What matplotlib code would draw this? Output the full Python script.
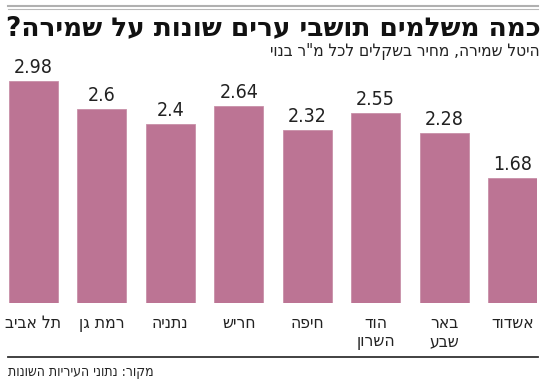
import matplotlib
matplotlib.use("Agg")
import matplotlib.pyplot as plt
from matplotlib.lines import Line2D

plt.rcParams['font.family'] = ['DejaVu Sans']
plt.rcParams['font.stretch'] = 'condensed'

# data, left to right as in the picture
cities = ["תל אביב", "רמת גן", "נתניה", "חריש", "חיפה", "הוד\nהשרון", "באר\nשבע", "אשדוד"]
prices = [2.98, 2.6, 2.4, 2.64, 2.32, 2.55, 2.28, 1.68]
value_labels = ["2.98", "2.6", "2.4", "2.64", "2.32", "2.55", "2.28", "1.68"]

title = "כמה משלמים תושבי ערים שונות על שמירה?"
subtitle = 'היטל שמירה, מחיר בשקלים לכל מ"ר בנוי'
source = "מקור: נתוני העיריות השונות"

bar_color = "#bc7494"
text_color = "#222222"


def rtl(s):
    # matplotlib has no bidi support, flip each line for display
    return "\n".join(line[::-1] for line in s.split("\n"))


W, H = 550, 383
fig = plt.figure(figsize=(W / 100, H / 100), dpi=100)

# axes: px 9..537 horizontally, baseline at px 303
left, right = 9, 537
bottom, top = 303, 64.6
ax = fig.add_axes([left / W, (H - bottom) / H, (right - left) / W, (bottom - top) / H])

x = list(range(len(cities)))
bw = 0.716
ax.bar(x, prices, width=bw, color=bar_color, edgecolor="#c890a8", linewidth=0.6)
ax.set_xlim(-bw / 2, len(cities) - 1 + bw / 2)
ax.set_ylim(0, 3.2)
ax.axis("off")

for i, v in enumerate(prices):
    ax.annotate(value_labels[i], xy=(i, v), xytext=(0, 4), textcoords="offset pixels",
                ha="center", va="bottom", fontsize=14, color=text_color)
    ax.annotate(rtl(cities[i]), xy=(i, 0), xytext=(0, -11), textcoords="offset pixels",
                ha="center", va="top", fontsize=12.5, color=text_color, linespacing=1.0)

# header rules
fig.add_artist(Line2D([8 / W, 538 / W], [(H - 6.3) / H] * 2, color="#b0b0b0", lw=1.5))
fig.add_artist(Line2D([8 / W, 538 / W], [(H - 9.3) / H] * 2, color="#b8b8b8", lw=0.8))

fig.text(541 / W, (H - 35) / H, rtl(title), ha="right", va="baseline",
         fontsize=19, fontweight="bold", fontstretch="normal", color="#111111")
fig.text(540 / W, (H - 56) / H, rtl(subtitle), ha="right", va="baseline",
         fontsize=12.3, color=text_color)

# footer
fig.add_artist(Line2D([8 / W, 538 / W], [(H - 357) / H] * 2, color="#333333", lw=1.3))
fig.text(8 / W, (H - 376) / H, rtl(source), ha="left", va="baseline",
         fontsize=10, color=text_color)

fig.savefig("out.png", dpi=100)
